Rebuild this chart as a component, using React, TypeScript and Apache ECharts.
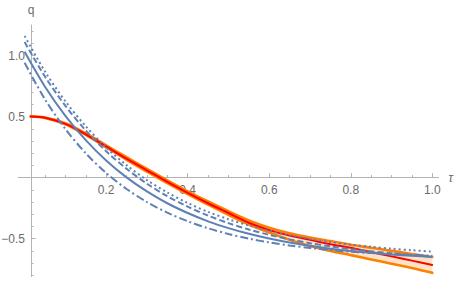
import React, { useEffect, useRef } from "react";
import * as echarts from "echarts";

// x samples for the blue curves
const tauBlue = [0, 0.05, 0.1, 0.15, 0.2, 0.25, 0.3, 0.35, 0.4, 0.45, 0.5, 0.55, 0.6, 0.65, 0.7, 0.75, 0.8, 0.85, 0.9, 0.95, 1.0];
const blueSolid = [1.03, 0.744, 0.506, 0.307, 0.141, 0.002, -0.113, -0.21, -0.29, -0.358, -0.414, -0.46, -0.499, -0.532, -0.559, -0.582, -0.601, -0.616, -0.63, -0.641, -0.65];
const blueDashed = [1.11, 0.827, 0.588, 0.386, 0.216, 0.072, -0.05, -0.152, -0.238, -0.311, -0.373, -0.425, -0.469, -0.506, -0.537, -0.563, -0.586, -0.604, -0.62, -0.634, -0.645];
const blueDotted = [1.16, 0.869, 0.625, 0.42, 0.247, 0.102, -0.02, -0.122, -0.208, -0.281, -0.341, -0.392, -0.436, -0.472, -0.502, -0.528, -0.549, -0.567, -0.582, -0.595, -0.606];
const blueDotDashed = [0.94, 0.641, 0.398, 0.199, 0.038, -0.093, -0.2, -0.287, -0.357, -0.415, -0.462, -0.5, -0.531, -0.556, -0.576, -0.593, -0.607, -0.618, -0.627, -0.634, -0.64];

// x samples for the red / orange band
const tauBand = [0.015, 0.05, 0.1, 0.15, 0.2, 0.25, 0.3, 0.35, 0.4, 0.45, 0.5, 0.55, 0.6, 0.65, 0.7, 0.75, 0.8, 0.85, 0.9, 0.95, 1.0];
const redMid = [0.5, 0.49, 0.44, 0.355, 0.255, 0.155, 0.06, -0.035, -0.125, -0.21, -0.29, -0.37, -0.43, -0.475, -0.51, -0.545, -0.575, -0.61, -0.645, -0.68, -0.715];
const orangeUpper = [0.5, 0.492, 0.445, 0.362, 0.265, 0.167, 0.072, -0.022, -0.112, -0.196, -0.275, -0.35, -0.41, -0.455, -0.49, -0.52, -0.55, -0.575, -0.6, -0.625, -0.65];
const orangeLower = [0.5, 0.488, 0.437, 0.35, 0.248, 0.146, 0.05, -0.045, -0.135, -0.222, -0.305, -0.385, -0.45, -0.51, -0.56, -0.6, -0.635, -0.67, -0.705, -0.74, -0.78];

// ticks
const xMajorTicks = [0.2, 0.4, 0.6, 0.8, 1.0];
const xMinorTicks = [0.05, 0.1, 0.15, 0.25, 0.3, 0.35, 0.45, 0.5, 0.55, 0.65, 0.7, 0.75, 0.85, 0.9, 0.95];
const yMajorTicks = [-0.5, 0.5, 1.0];
const yMinorTicks = [-0.8, -0.7, -0.6, -0.4, -0.3, -0.2, -0.1, 0.1, 0.2, 0.3, 0.4, 0.6, 0.7, 0.8, 0.9, 1.1, 1.2];

const X_MIN = -0.016;
const X_MAX = 1.015;
const Y_MIN = -0.81;
const Y_MAX = 1.25;

const AXIS_COLOR = "#b3b3b3";
const LABEL_COLOR = "#6b6b6b";
const FONT = "'Liberation Sans', Arial, sans-serif";
const BLUE = "#5e81b5";
const ORANGE = "#ff8000";
const RED = "#ff0000";

const pairs = (xs: number[], ys: number[]) => xs.map((x, i) => [x, ys[i]]);
const fmt = (v: number) => {
  const s = Number(v).toFixed(1);
  return s.startsWith("-") ? "\u2212" + s.slice(1) : s;
};

export default function App() {
  const ref = useRef<HTMLDivElement>(null);
  useEffect(() => {
    if (!ref.current) return;
    const chart = echarts.init(ref.current, null, { renderer: "svg" });
    const W = 458;
    const H = 287;
    const gridLeft = 18.1;
    const gridRight = 19.6;
    const gridTop = 25;
    const gridBottom = 10.5;
    const plotW = W - gridLeft - gridRight;
    const plotH = H - gridTop - gridBottom;
    const yAxisPx = gridLeft + ((0.0157 - X_MIN) / (X_MAX - X_MIN)) * plotW;
    const zeroPx = gridTop + ((Y_MAX - 0) / (Y_MAX - Y_MIN)) * plotH;

    const blueBase = {
      type: "line",
      showSymbol: false,
      symbol: "none",
      smooth: 0.3,
      z: 5,
    };
    chart.setOption({
      animation: false,
      grid: {
        left: gridLeft,
        right: gridRight,
        top: gridTop,
        bottom: gridBottom,
        outerBoundsMode: "none",
        containLabel: false,
      },
      xAxis: [
        {
          type: "value",
          position: "bottom",
          min: X_MIN,
          max: X_MAX,
          offset: -(H - gridBottom - zeroPx),
          name: "\u03c4",
          nameLocation: "end",
          nameGap: 10,
          nameMoveOverlap: false,
          nameTextStyle: { color: LABEL_COLOR, fontStyle: "italic", fontFamily: FONT, fontSize: 12, align: "left", verticalAlign: "middle", padding: [4, 0, 0, 0] },
          axisLine: { show: true, onZero: false, lineStyle: { color: AXIS_COLOR, width: 1 } },
          axisTick: { show: true, inside: true, length: 4.5, customValues: xMajorTicks, lineStyle: { color: AXIS_COLOR } },
          axisLabel: {
            show: true,
            customValues: xMajorTicks,
            formatter: fmt,
            color: LABEL_COLOR,
            fontFamily: FONT,
            fontSize: 12,
            margin: 6,
          },
          splitLine: { show: false },
        },
        {
          type: "value",
          position: "top",
          min: X_MIN,
          max: X_MAX,
          offset: -(zeroPx - gridTop),
          axisLine: { show: false, onZero: false },
          axisTick: { show: true, inside: false, length: 2.5, customValues: xMinorTicks, lineStyle: { color: AXIS_COLOR } },
          axisLabel: { show: false },
          splitLine: { show: false },
        },
      ],
      yAxis: [
        {
          type: "value",
          position: "left",
          min: Y_MIN,
          max: Y_MAX,
          offset: -(yAxisPx - gridLeft),
          name: "q",
          nameLocation: "end",
          nameGap: 9,
          nameMoveOverlap: false,
          nameTextStyle: { color: LABEL_COLOR, fontFamily: FONT, fontSize: 12, align: "center" },
          axisLine: { show: true, onZero: false, lineStyle: { color: AXIS_COLOR, width: 1 } },
          axisTick: { show: true, inside: true, length: 4.5, customValues: yMajorTicks, lineStyle: { color: AXIS_COLOR } },
          axisLabel: {
            show: true,
            customValues: yMajorTicks,
            formatter: fmt,
            color: LABEL_COLOR,
            fontFamily: FONT,
            fontSize: 12,
            margin: 6,
          },
          splitLine: { show: false },
        },
        {
          type: "value",
          position: "right",
          min: Y_MIN,
          max: Y_MAX,
          offset: yAxisPx - (W - gridRight),
          axisLine: { show: false, onZero: false },
          axisTick: { show: true, inside: false, length: 2.5, customValues: yMinorTicks, lineStyle: { color: AXIS_COLOR } },
          axisLabel: { show: false },
          splitLine: { show: false },
        },
      ],
      series: [
        {
          type: "custom",
          name: "band",
          coordinateSystem: "cartesian2d",
          data: [[tauBand[0], orangeUpper[0]]],
          encode: { x: 0, y: 1 },
          z: 1,
          silent: true,
          renderItem: (params: any, api: any) => {
            const top = tauBand.map((x, i) => api.coord([x, orangeUpper[i]]));
            const bottom = tauBand.map((x, i) => api.coord([x, orangeLower[i]])).reverse();
            return {
              type: "group",
              children: [
                {
                  type: "polyline",
                  shape: { points: top, smooth: 0.3 },
                  style: { fill: "none", stroke: "none" },
                },
                {
                  type: "polygon",
                  shape: { points: top.concat(bottom) },
                  style: { fill: "rgba(255,128,0,0.22)", stroke: "none" },
                },
              ],
            };
          },
        },
        {
          type: "line",
          name: "upper",
          data: pairs(tauBand, orangeUpper),
          showSymbol: false,
          symbol: "none",
          smooth: 0.3,
          lineStyle: { color: ORANGE, width: 2.6, cap: "round" },
          z: 3,
        },
        {
          type: "line",
          name: "lower",
          data: pairs(tauBand, orangeLower),
          showSymbol: false,
          symbol: "none",
          smooth: 0.3,
          lineStyle: { color: ORANGE, width: 2.6, cap: "round" },
          z: 3,
        },
        {
          type: "line",
          name: "red",
          data: pairs(tauBand, redMid),
          showSymbol: false,
          symbol: "none",
          smooth: 0.3,
          lineStyle: { color: RED, width: 2, cap: "round" },
          z: 4,
        },
        {
          ...blueBase,
          name: "solid",
          data: pairs(tauBlue, blueSolid),
          lineStyle: { color: BLUE, width: 2 },
        },
        {
          ...blueBase,
          name: "dashed",
          data: pairs(tauBlue, blueDashed),
          lineStyle: { color: BLUE, width: 2, type: [6, 3] },
        },
        {
          ...blueBase,
          name: "dotted",
          data: pairs(tauBlue, blueDotted),
          lineStyle: { color: BLUE, width: 2, type: [2, 3] },
        },
        {
          ...blueBase,
          name: "dotdashed",
          data: pairs(tauBlue, blueDotDashed),
          lineStyle: { color: BLUE, width: 2, type: [8, 3, 2, 3] },
        },
      ],
    });
    return () => chart.dispose();
  }, []);
  return (
    <div
      ref={ref}
      style={{ position: "absolute", left: 0, top: 0, width: 458, height: 287, background: "#ffffff" }}
    />
  );
}
